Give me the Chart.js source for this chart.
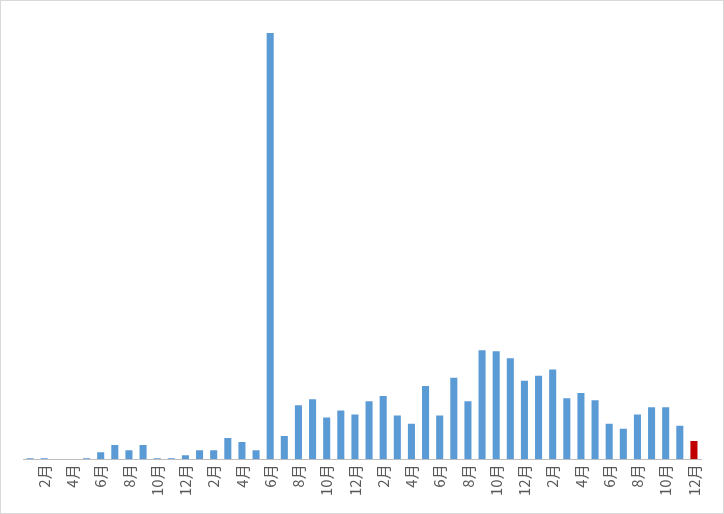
<!DOCTYPE html>
<html><head><meta charset="utf-8">
<script src="https://cdn.jsdelivr.net/npm/chart.js@4"></script>
<style>html,body{margin:0;padding:0;background:#fff}
#w{position:absolute;left:0;top:0;width:722px;height:512px;border:1px solid #d9d9d9}
</style></head><body>
<div id="w"><canvas id="c"></canvas></div>
<script>
const months = ["1月","2月","3月","4月","5月","6月","7月","8月","9月","10月","11月","12月"];
const categories = [].concat(months, months, months, months);
const values = [1,1,0,0,1,7,14,9,14,1,1,4,
                9,9,21,17,9,418,23,53,59,41,48,44,
                57,62,43,35,72,43,80,57,107,106,99,77,
                82,88,60,65,58,35,30,44,51,51,33,18];
const colors = values.map((v,i)=> i===values.length-1 ? '#c00000' : '#5b9bd5');
new Chart(document.getElementById('c'),{
  type:'bar',
  data:{labels:categories,datasets:[{data:values,backgroundColor:colors,barPercentage:0.5,categoryPercentage:1}]},
  options:{responsive:true,maintainAspectRatio:false,animation:false,
    layout:{padding:{left:22,right:22,top:32,bottom:12}},
    plugins:{legend:{display:false},tooltip:{enabled:false}},
    scales:{
      x:{grid:{display:false,drawTicks:false},border:{color:'#bfbfbf'},
        ticks:{autoSkip:false,minRotation:90,maxRotation:90,color:'#595959',font:{size:15,family:'Noto Sans CJK SC'},padding:5,
          callback:function(v,i){return i%2===1?categories[i]:'';}}},
      y:{display:false,min:0,max:418}
    }}
});
</script></body></html>
